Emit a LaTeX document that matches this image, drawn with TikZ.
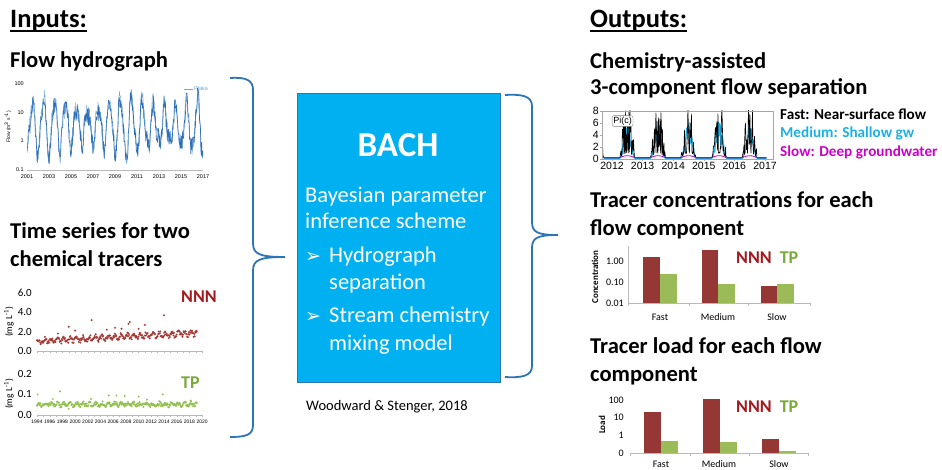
\documentclass[tikz,border=0pt]{standalone}
\usepackage{fontspec}
\setmainfont{Carlito}
\newfontfamily\symfont{DejaVu Sans}
\newfontfamily\chartfont{Liberation Sans}
\usetikzlibrary{calc}

\definecolor{bachblue}{HTML}{00B0F0}
\definecolor{bracecol}{HTML}{2E75B6}
\definecolor{nnnred}{HTML}{A31A1E}
\definecolor{tpgreen}{HTML}{7AAA3C}
\definecolor{barred}{HTML}{953735}
\definecolor{bargreen}{HTML}{9BBB59}
\definecolor{dotred}{HTML}{A53A36}
\definecolor{dotgreen}{HTML}{92C050}
\definecolor{hydroblue}{HTML}{2E6FB8}
\definecolor{hydrolight}{HTML}{6FA8DC}
\definecolor{medcyan}{HTML}{1CB0E6}
\definecolor{slowmag}{HTML}{CC00CC}

\newcommand{\fs}[1]{\fontsize{#1}{#1}\selectfont}

\tikzset{
  heading/.style={anchor=base west, inner sep=0, font=\fs{26.5}\bfseries},
  subhead/.style={anchor=base west, inner sep=0, font=\fs{22.6}\bfseries},
  boxtext/.style={anchor=base west, inner sep=0, text=white, font=\fs{22.5}},
  bullet/.style={anchor=base west, inner sep=0, text=white, font=\symfont\fs{19}},
  brace/.style={draw=bracecol, line width=1.8},
  tick/.style={inner sep=0, font=\fs{10}},
  tinytick/.style={inner sep=0, font=\chartfont\fs{5.5}},
  axisline/.style={draw=gray!55, line width=0.5},
  tracer/.style={inner sep=0, font=\fs{18}\bfseries},
  declare function={seas(\t)=max(0,sin(360*(\t-0.25)));}
}

\begin{document}
\begin{tikzpicture}[x=1pt,y=-1pt]
\useasboundingbox[fill=white] (0,0) rectangle (942,470);

% ---------- headings ----------
\node[heading] (inputs) at (10,28) {Inputs:};
\draw[line width=1.4] ($(inputs.base west)+(0,3)$) -- ($(inputs.base east)+(0,3)$);
\node[heading] (outputs) at (590,28) {Outputs:};
\draw[line width=1.4] ($(outputs.base west)+(0,3)$) -- ($(outputs.base east)+(0,3)$);

\node[subhead] (hydtitle) at (10,68) {Flow hydrograph};
\node[subhead] (ts1) at (10,239) {Time series for two};
\node[subhead] (ts2) at (10,267) {chemical tracers};

\node[subhead] (sep1) at (590,69) {Chemistry-assisted};
\node[subhead] (sep2) at (590,95) {3-component flow separation};
\node[subhead] (conc1) at (590,208) {Tracer concentrations for each};
\node[subhead] (conc2) at (590,236) {flow component};
\node[subhead] (load1) at (590,353) {Tracer load for each flow};
\node[subhead] (load2) at (590,381) {component};

% ---------- central BACH box ----------
\draw[fill=bachblue, draw=bracecol, line width=0.7] (297,93) rectangle (500,382);
\node (bachbox) at (398.5,237.5) [minimum width=203, minimum height=289, inner sep=0] {};
\node[inner sep=0, text=white, font=\fs{35}\bfseries, anchor=base] (bach) at (398,157) {BACH};
\node[boxtext] (b1) at (305,203) {Bayesian parameter};
\node[boxtext] (b2) at (305,229) {inference scheme};
\node[bullet] (arr1) at (305,262) {➢};
\node[boxtext] (b3) at (329,263) {Hydrograph};
\node[boxtext] (b4) at (329,290) {separation};
\node[bullet] (arr2) at (305,322) {➢};
\node[boxtext] (b5) at (329,323) {Stream chemistry};
\node[boxtext] (b6) at (329,350) {mixing model};
\node[anchor=base west, inner sep=0, font=\fs{14.5}] (cite) at (306,410) {Woodward \& Stenger, 2018};

% ---------- braces ----------
\coordinate (ltip) at (285,257);
\coordinate (rtip) at (558,235);
\draw[brace] (230,78) .. controls (246,77) and (253,80) .. (253,90) -- (253,243)
   .. controls (253,254) and (259,257) .. (ltip)
   .. controls (259,257) and (253,260) .. (253,271) -- (253,425)
   .. controls (253,435) and (246,437) .. (230,437);
\draw[brace] (505,95) .. controls (522,94) and (532,96) .. (532,106) -- (532,222)
   .. controls (532,232) and (537,235) .. (rtip)
   .. controls (537,235) and (532,238) .. (532,248) -- (532,366)
   .. controls (532,376) and (522,378) .. (505,377);

% ---------- flow hydrograph chart ----------
\draw[axisline] (27,170) -- (203,170);
\foreach \v/\yy in {100/84, 10/113, 1/141, 0.1/170}
  \node[tinytick, anchor=east] at (24,\yy) {\v};
\foreach \yr [count=\k from 0] in {2001,2003,...,2017}
  \node[tinytick, anchor=north] at ({27+22*\k},174) {\yr};
\node[tinytick, rotate=90, font=\chartfont\fs{5}] (hydylab) at (8,127) {Flow (m\textsuperscript{3} s\textsuperscript{-1})};
\draw[hydrolight, line width=0.8] (184,89) -- (193,89);
\node[tinytick, anchor=west, text=hydrolight] (plaka) at (194,89) {Plaka};
\begin{scope}
  \clip (27,80) rectangle (203,172);
  \pgfmathsetseed{11}
  \draw[hydrolight, line width=0.5, line join=round]
    plot[domain=0:16, samples=420]
    ({27+11*\x}, {141-28.7*(0.55+(0.8+0.2*sin(50*\x))*sin(360*\x-90)+0.2*sin(700*\x)+0.32*rand)});
  \pgfmathsetseed{23}
  \draw[hydroblue, line width=0.6, line join=round]
    plot[domain=0:16, samples=420]
    ({27+11*\x}, {141-28.7*(0.5+(0.75+0.2*sin(50*\x))*sin(360*\x-90)+0.2*sin(700*\x)+0.3*rand)});
\end{scope}

% ---------- NNN time series ----------
\draw[axisline] (37,351) -- (202,351);
\foreach \yr in {0,...,26} \draw[gray!55, line width=0.4] ({37+6.35*\yr},351) -- ({37+6.35*\yr},353);
\foreach \v/\yy in {6.0/293, 4.0/312, 2.0/332, 0.0/351}
  \node[tick, anchor=east, font=\fs{11}] at (32,\yy) {\v};
\node[tick, rotate=90, font=\fs{9.5}] (nnnylab) at (9,322) {(mg L\textsuperscript{-1})};
\pgfmathsetseed{5}
\foreach \i in {0,...,302}{
  \pgfmathsetmacro{\tt}{\i/12}
  \pgfmathsetmacro{\vv}{1.0+0.035*\tt+0.22*sin(360*\tt)+0.22*rand}
  \fill[dotred] ({37+6.35*\tt},{351-9.67*\vv}) circle (1.1);
}
\foreach \tt/\vv in {5/2.5, 6/2.1, 8.6/3.2, 14.6/3.0, 14.4/2.8, 17/2.7, 20/3.7, 3.3/1.8, 11/2.2, 12.3/2.4, 13.3/2.3, 16/2.3}
  \fill[dotred] ({37+6.35*\tt},{351-9.67*\vv}) circle (1.1);
\node[tracer, text=nnnred, anchor=west] (nnnL) at (181,297) {NNN};

% ---------- TP time series ----------
\draw[axisline] (37,415) -- (202,415);
\foreach \yr in {0,...,26} \draw[gray!55, line width=0.4] ({37+6.35*\yr},415) -- ({37+6.35*\yr},417);
\foreach \v/\yy in {0.2/374, 0.1/394, 0.0/415}
  \node[tick, anchor=east, font=\fs{11}] at (32,\yy) {\v};
\node[tick, rotate=90, font=\fs{9.5}] (tpylab) at (9,394) {(mg L\textsuperscript{-1})};
\foreach \yr [count=\k from 0] in {1994,1996,...,2020}
  \node[tinytick, anchor=north, font=\chartfont\fs{5}] at ({37+12.7*\k},420) {\yr};
\pgfmathsetseed{9}
\foreach \i in {0,...,302}{
  \pgfmathsetmacro{\tt}{\i/12}
  \pgfmathsetmacro{\vv}{0.052+0.006*sin(360*\tt)+0.009*rand}
  \fill[dotgreen] ({37+6.35*\tt},{415-205*\vv}) circle (1.1);
}
\foreach \tt/\vv in {0.1/0.1, 3.6/0.115, 11.3/0.095, 12.5/0.095, 13.8/0.093, 16/0.09, 17.3/0.075, 19.8/0.1, 24.2/0.07, 5/0.03, 2.5/0.078, 8.5/0.078}
  \fill[dotgreen] ({37+6.35*\tt},{415-205*\vv}) circle (1.1);
\node[tracer, text=tpgreen, anchor=west] (tpL) at (181,383) {TP};

% ---------- flow separation chart ----------
\begin{scope}
  \clip (602,111) rectangle (773,159);
  \pgfmathsetseed{3}
  \draw[medcyan, line width=1.4, line join=round]
    plot[domain=-0.33:5.05, samples=300]
    ({612+30.6*\x}, {159-6*(0.15+seas(\x)^2*(2.5+4*rnd))});
  \pgfmathsetseed{17}
  \draw[black, line width=0.6, line join=round]
    plot[domain=-0.33:5.05, samples=330]
    ({612+30.6*\x}, {159-6*min(8.6, 0.2+seas(\x)*(0.8+9*rnd^3))});
  \draw[slowmag, line width=0.8]
    plot[domain=-0.33:5.05, samples=120]
    ({612+30.6*\x}, {159-6*(0.2+0.35*seas(\x))});
\end{scope}
\draw[gray!70, line width=0.5] (602,111) rectangle (773,159);
\foreach \v in {0,2,...,8}{
  \node[tick, anchor=east, font=\chartfont\fs{10.5}] at (599,{159-6*\v}) {\v};
  \draw[gray!70, line width=0.4] (600,{159-6*\v}) -- (602,{159-6*\v});
}
\foreach \yr [count=\k from 0] in {2012,...,2017}{
  \node[tick, anchor=north, font=\chartfont\fs{10.5}] at ({612+30.6*\k},162) {\yr};
  \draw[gray!70, line width=0.4] ({612+30.6*\k},159) -- ({612+30.6*\k},161);
}
\node[draw=gray, rounded corners=2, fill=white, inner sep=1.2, font=\chartfont\fs{9}] (pic) at (622.5,121) {Pi(c)};

\node[anchor=base west, inner sep=0, font=\fs{15.2}\bfseries] (fast) at (780,120) {Fast: Near-surface flow};
\node[anchor=base west, inner sep=0, font=\fs{15.2}\bfseries, text=medcyan] (medium) at (780,138) {Medium: Shallow gw};
\node[anchor=base west, inner sep=0, font=\fs{15.2}\bfseries, text=slowmag] (slow) at (780,157) {Slow: Deep groundwater};

% ---------- concentration bar chart ----------
\draw[axisline] (628,246) -- (628,303);
\fill[barred]   (643,257) rectangle (660,303);
\fill[bargreen] (660,274) rectangle (677,303);
\fill[barred]   (702,250) rectangle (718,303);
\fill[bargreen] (718,284) rectangle (735,303);
\fill[barred]   (761,286) rectangle (777,303);
\fill[bargreen] (777,284) rectangle (794,303);
\draw[axisline] (628,303) -- (810,303);
\foreach \xx in {628,689,748,810} \draw[gray!55, line width=0.4] (\xx,303) -- (\xx,306);
\foreach \v/\yy in {1.00/261, 0.10/282, 0.01/303}
  \node[tick, anchor=east] at (624,\yy) {\v};
\foreach \c/\xx in {Fast/660, Medium/718, Slow/777}
  \node[tick] at (\xx,317) {\c};
\node[tick, rotate=90, font=\fs{9}\bfseries] (conclab) at (595,277) {Concentration};
\node[tracer, text=nnnred] (nnnC) at (754,258) {NNN};
\node[tracer, text=tpgreen] (tpC) at (789,258) {TP};

% ---------- load bar chart ----------
\fill[barred]   (644,412) rectangle (661,453);
\fill[bargreen] (661,441) rectangle (678,453);
\fill[barred]   (703,399) rectangle (720,453);
\fill[bargreen] (720,442) rectangle (737,453);
\fill[barred]   (762,439) rectangle (779,453);
\fill[bargreen] (779,451) rectangle (796,453);
\draw[axisline] (630,453) -- (808,453);
\foreach \xx in {630,690,749,808} \draw[gray!55, line width=0.4] (\xx,453) -- (\xx,456);
\foreach \v/\yy in {100/400, 10/417, 1/435, 0/453}
  \node[tick, anchor=east] at (624,\yy) {\v};
\foreach \c/\xx in {Fast/661, Medium/719, Slow/779}
  \node[tick] at (\xx,464) {\c};
\node[tick, rotate=90, font=\fs{9}\bfseries] (loadlab) at (602,425) {Load};
\node[tracer, text=nnnred] (nnnLd) at (754,407) {NNN};
\node[tracer, text=tpgreen] (tpLd) at (789,407) {TP};
\end{tikzpicture}
\end{document}
